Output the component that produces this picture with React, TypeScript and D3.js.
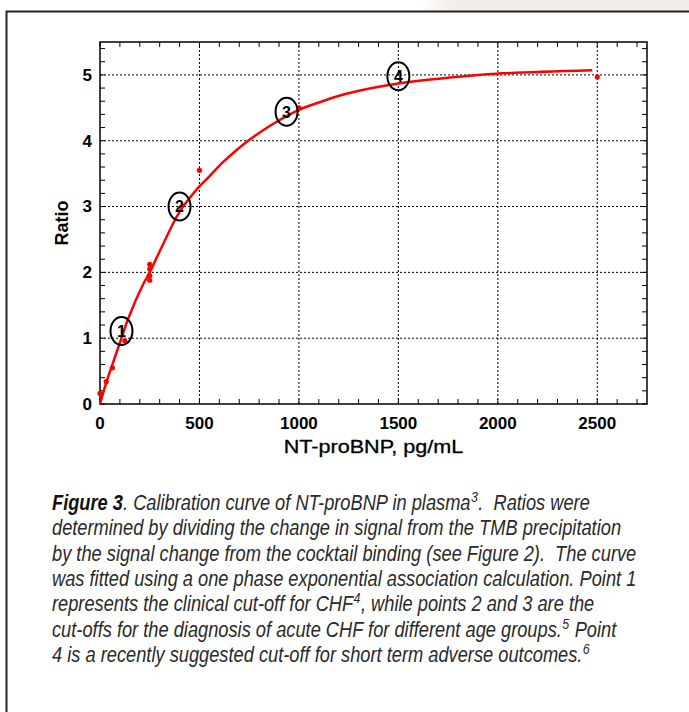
import React from 'react';
import * as d3 from 'd3';

// measured calibration points (NT-proBNP pg/mL vs ratio)
const pointX = [0, 31.25, 62.5, 125, 250, 250, 250, 250, 500, 1000, 2500];
const pointY = [0.16, 0.34, 0.55, 0.96, 2.12, 2.05, 1.95, 1.88, 3.55, 4.5, 4.97];

// fitted one phase exponential association curve
const fitX = [0, 33, 67, 108, 142, 217, 250, 308, 400, 492, 550, 617, 680, 750, 867, 1000, 1100, 1233, 1500, 1900, 2000, 2475];
const fitY = [0, 0.34, 0.64, 1.0, 1.3, 1.82, 2.0, 2.37, 2.92, 3.28, 3.46, 3.67, 3.84, 4.01, 4.25, 4.47, 4.58, 4.71, 4.87, 5.0, 5.02, 5.07];

// circled cut-off markers
const markerNames = ['1', '2', '3', '4'];
const markerX = [108, 400, 938, 1500];
const markerY = [1.11, 3.0, 4.44, 4.98];

const xTicks = [0, 500, 1000, 1500, 2000, 2500];
const yTicks = [0, 1, 2, 3, 4, 5];

type Seg = { t: string; b?: boolean; sup?: boolean };
const captionLines: Seg[][] = [
  [{ t: 'Figure 3', b: true }, { t: '. Calibration curve of NT-proBNP in plasma' }, { t: '3', sup: true }, { t: '.  Ratios were' }],
  [{ t: 'determined by dividing the change in signal from the TMB precipitation' }],
  [{ t: 'by the signal change from the cocktail binding (see Figure 2).  The curve' }],
  [{ t: 'was fitted using a one phase exponential association calculation. Point 1' }],
  [{ t: 'represents the clinical cut-off for CHF' }, { t: '4', sup: true }, { t: ', while points 2 and 3 are the' }],
  [{ t: 'cut-offs for the diagnosis of acute CHF for different age groups.' }, { t: '5', sup: true }, { t: ' Point' }],
  [{ t: '4 is a recently suggested cut-off for short term adverse outcomes.' }, { t: '6', sup: true }],
];

const W = 689;
const H = 712;
const plot = { left: 100, right: 647, top: 42, bottom: 404 };

export default function App() {
  const x = d3.scaleLinear().domain([0, 2750]).range([plot.left, plot.right]);
  const y = d3.scaleLinear().domain([0, 5.5]).range([plot.bottom, plot.top]);

  const line = d3
    .line<number>()
    .x((_, i) => x(fitX[i]))
    .y((d) => y(d))
    .curve(d3.curveCatmullRom.alpha(0.5));

  const xMinor = d3.range(0, 2751, 100);
  const yMinor = d3.range(0, 5.51, 0.2);
  const tick = 5;
  const axisFont = "'Liberation Sans', Arial, Helvetica, sans-serif";
  const capFont = "'Liberation Sans', Arial, sans-serif";

  return (
    <svg width={W} height={H} style={{ position: 'absolute', left: 0, top: 0, background: '#fff' }}>
      <defs>
        <linearGradient id="shade" x1="0" x2="1" y1="0" y2="0">
          <stop offset="0" stopColor="#fff" />
          <stop offset="0.12" stopColor="#f4eeea" />
          <stop offset="1" stopColor="#f4eeea" />
        </linearGradient>
      </defs>
      <rect x={420} y={0} width={269} height={11} fill="url(#shade)" />
      <path d={`M6.5,${H} V11.5 H${W}`} fill="none" stroke="#222" strokeWidth={2} />

      {/* grid */}
      <g stroke="#000" strokeWidth={1} strokeDasharray="2,2">
        {xTicks.slice(1).map((v) => (
          <line key={'gx' + v} x1={x(v)} x2={x(v)} y1={plot.top} y2={plot.bottom} />
        ))}
        {yTicks.slice(1).map((v) => (
          <line key={'gy' + v} x1={plot.left} x2={plot.right} y1={y(v)} y2={y(v)} />
        ))}
      </g>

      {/* inward ticks on all sides */}
      <g stroke="#000" strokeWidth={1}>
        {xMinor.map((v) => (
          <g key={'tx' + v}>
            <line x1={x(v)} x2={x(v)} y1={plot.bottom} y2={plot.bottom - tick} />
            <line x1={x(v)} x2={x(v)} y1={plot.top} y2={plot.top + tick} />
          </g>
        ))}
        {yMinor.map((v) => (
          <g key={'ty' + v}>
            <line x1={plot.left} x2={plot.left + tick} y1={y(v)} y2={y(v)} />
            <line x1={plot.right} x2={plot.right - tick} y1={y(v)} y2={y(v)} />
          </g>
        ))}
      </g>
      <rect
        x={plot.left}
        y={plot.top}
        width={plot.right - plot.left}
        height={plot.bottom - plot.top}
        fill="none"
        stroke="#000"
        strokeWidth={1.5}
      />

      {/* tick labels */}
      <g fontFamily={axisFont} fontWeight="bold" fontSize={17} fill="#000">
        {yTicks.map((v) => (
          <text key={'ly' + v} x={plot.left - 8} y={y(v)} dy="0.35em" textAnchor="end">
            {v}
          </text>
        ))}
        {xTicks.map((v) => (
          <text key={'lx' + v} x={x(v)} y={plot.bottom + 25} textAnchor="middle">
            {v}
          </text>
        ))}
      </g>
      <text
        transform={`translate(68,${(plot.top + plot.bottom) / 2}) rotate(-90)`}
        textAnchor="middle"
        fontFamily={axisFont}
        fontWeight="bold"
        fontSize={18}
      >
        Ratio
      </text>
      <text
        transform={`translate(${(plot.left + plot.right) / 2},453) scale(1.2,1)`}
        textAnchor="middle"
        fontFamily={axisFont}
        fontSize={18}
        stroke="#000"
        strokeWidth={0.3}
      >
        NT-proBNP, pg/mL
      </text>

      {/* fitted curve and points */}
      <path d={line(fitY) || ''} fill="none" stroke="#ff0000" strokeWidth={2.5} />
      {pointX.map((v, i) => (
        <circle key={'p' + i} cx={x(v)} cy={y(pointY[i])} r={2.6} fill="#ff0000" />
      ))}

      {/* circled markers */}
      {markerNames.map((n, i) => (
        <g key={'m' + n} transform={`translate(${x(markerX[i])},${y(markerY[i])})`}>
          <ellipse rx={11} ry={14} fill="none" stroke="#000" strokeWidth={2} />
          <text dy="0.36em" textAnchor="middle" fontFamily={axisFont} fontWeight="bold" fontSize={16}>
            {n}
          </text>
        </g>
      ))}

      {/* caption, condensed by a horizontal scale */}
      <g fontFamily={capFont} fontStyle="italic" fontSize={22} fill="#2a2a2a">
        {captionLines.map((segs, li) => (
          <text
            key={'c' + li}
            transform={`translate(52,${510 + li * 25.3}) scale(0.83,1)`}
            style={{ whiteSpace: 'pre' }}
          >
            {segs.map((s, si) => {
              const prevSup = si > 0 && segs[si - 1].sup;
              const dy = s.sup ? -8 : prevSup ? 8 : 0;
              return (
                <tspan
                  key={si}
                  dy={dy}
                  dx={s.sup || prevSup ? 0.5 : 0}
                  fontSize={s.sup ? 15 : undefined}
                  fontWeight={s.b ? 'bold' : undefined}
                  fill={s.b ? '#111' : undefined}
                >
                  {s.t}
                </tspan>
              );
            })}
          </text>
        ))}
      </g>
    </svg>
  );
}
